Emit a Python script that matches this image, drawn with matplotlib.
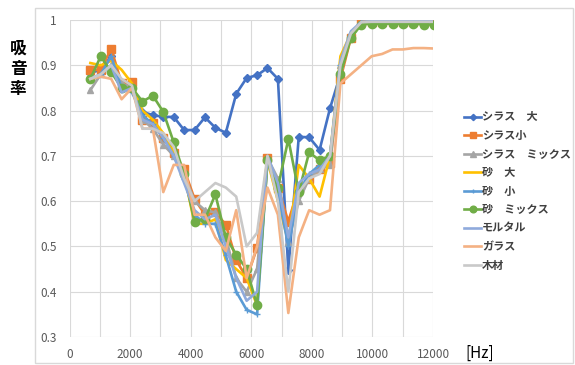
import matplotlib
matplotlib.use("Agg")
import matplotlib.pyplot as plt
from matplotlib.ticker import MultipleLocator, FuncFormatter
from matplotlib.patches import Rectangle

plt.rcParams['font.family'] = ['Noto Sans CJK JP', 'DejaVu Sans']

# Frequencies (Hz)
freq = [344 * n for n in range(2, 36)]

shirasu_dai = [0.883, 0.89, 0.92, 0.86, 0.852, 0.797, 0.79, 0.786, 0.786, 0.757, 0.757,
               0.785, 0.762, 0.751, 0.837, 0.872, 0.878, 0.894, 0.870, 0.447, 0.742,
               0.741, 0.713, 0.805, 0.88, 0.965, 0.995, 0.996, 0.996, 0.996, 0.996,
               0.996, 0.996, 0.996]
shirasu_sho = [0.89, 0.89, 0.937, 0.86, 0.862, 0.78, 0.772, 0.74, 0.706, 0.67, 0.605,
               0.57, 0.575, 0.548, 0.47, 0.43, 0.497, 0.695, 0.63, 0.555, 0.63,
               0.65, 0.67, 0.685, 0.87, 0.96, 0.995, 0.996, 0.996, 0.996, 0.996,
               0.996, 0.996, 0.996]
shirasu_mix = [0.845, 0.88, 0.90, 0.86, 0.85, 0.78, 0.76, 0.725, 0.70, 0.66, 0.60,
               0.58, 0.575, 0.52, 0.43, 0.40, 0.45, 0.695, 0.65, 0.51, 0.60,
               0.65, 0.67, 0.68, 0.90, 0.965, 0.992, 0.994, 0.994, 0.994, 0.994,
               0.994, 0.994, 0.994]
suna_dai = [0.905, 0.90, 0.91, 0.89, 0.86, 0.80, 0.78, 0.75, 0.71, 0.66, 0.55,
            0.55, 0.56, 0.47, 0.45, 0.43, 0.37, 0.69, 0.60, 0.51, 0.68,
            0.65, 0.61, 0.70, 0.92, 0.97, 0.995, 0.997, 0.997, 0.997, 0.997,
            0.997, 0.997, 0.997]
suna_sho = [0.87, 0.88, 0.92, 0.85, 0.84, 0.79, 0.77, 0.74, 0.70, 0.65, 0.57,
            0.55, 0.55, 0.48, 0.40, 0.36, 0.35, 0.69, 0.62, 0.50, 0.62,
            0.66, 0.68, 0.70, 0.90, 0.97, 0.995, 0.996, 0.996, 0.996, 0.996,
            0.996, 0.996, 0.996]
suna_mix = [0.87, 0.92, 0.885, 0.85, 0.85, 0.82, 0.833, 0.797, 0.73, 0.66, 0.555,
            0.56, 0.615, 0.52, 0.482, 0.45, 0.37, 0.69, 0.63, 0.737, 0.62,
            0.708, 0.69, 0.70, 0.88, 0.96, 0.99, 0.992, 0.992, 0.992, 0.992,
            0.992, 0.99, 0.99]
mortar = [0.87, 0.88, 0.90, 0.84, 0.85, 0.78, 0.77, 0.74, 0.70, 0.64, 0.58,
          0.56, 0.57, 0.50, 0.43, 0.38, 0.40, 0.70, 0.64, 0.52, 0.64,
          0.66, 0.67, 0.70, 0.91, 0.975, 0.996, 0.997, 0.997, 0.997, 0.997,
          0.997, 0.997, 0.997]
glass = [0.87, 0.875, 0.87, 0.825, 0.85, 0.76, 0.76, 0.62, 0.68, 0.68, 0.57,
         0.57, 0.52, 0.49, 0.58, 0.43, 0.50, 0.63, 0.57, 0.353, 0.52,
         0.58, 0.57, 0.58, 0.86, 0.88, 0.90, 0.92, 0.925, 0.935, 0.935,
         0.938, 0.938, 0.937]
wood = [0.87, 0.88, 0.90, 0.87, 0.855, 0.76, 0.76, 0.75, 0.72, 0.65, 0.60,
        0.62, 0.64, 0.63, 0.61, 0.50, 0.53, 0.70, 0.60, 0.40, 0.62,
        0.65, 0.66, 0.70, 0.90, 0.97, 0.995, 0.996, 0.996, 0.996, 0.996,
        0.996, 0.996, 0.996]

labels = ['シラス　大', 'シラス小', 'シラス　ミックス', '砂　大', '砂　小',
          '砂　ミックス', 'モルタル', 'ガラス', '木材']
series = [shirasu_dai, shirasu_sho, shirasu_mix, suna_dai, suna_sho,
          suna_mix, mortar, glass, wood]
colors = ['#4472C4', '#ED7D31', '#A5A5A5', '#FFC000', '#5B9BD5',
          '#70AD47', '#8FAADC', '#F4B183', '#C9C9C9']
markers = ['D', 's', '^', None, '+', 'o', None, None, None]
msizes = [4, 5.5, 5, 0, 4, 6, 0, 0, 0]

fig = plt.figure(figsize=(5.75, 3.65), dpi=100)
fig.add_artist(Rectangle((35 / 575, 0.005), 1 - 35 / 575 - 0.003, 1 - 8 / 365 - 0.005,
                         transform=fig.transFigure, fill=False,
                         edgecolor='#D9D9D9', linewidth=1.0))

ax = fig.add_axes([69.5 / 575, 28 / 365, (433 - 69.5) / 575, (337 - 20) / 365])

for y, lab, c, m, ms in zip(series, labels, colors, markers, msizes):
    ax.plot(freq, y, color=c, marker=m, markersize=ms, linewidth=1.9,
            label=lab, clip_on=True)

ax.set_xlim(0, 12000)
ax.set_ylim(0.3, 1.0)
ax.xaxis.set_major_locator(MultipleLocator(2000))
ax.xaxis.set_minor_locator(MultipleLocator(1000))
ax.yaxis.set_major_locator(MultipleLocator(0.1))
ax.yaxis.set_major_formatter(FuncFormatter(lambda v, p: '1' if abs(v - 1) < 1e-9 else f'{v:.1f}'))
ax.grid(which='both', axis='x', color='#D9D9D9', linewidth=0.8)
ax.grid(which='major', axis='y', color='#D9D9D9', linewidth=0.8)
ax.set_axisbelow(True)
for s in ax.spines.values():
    s.set_visible(False)
ax.tick_params(which='both', length=0, labelsize=8.5, colors='#595959')
ax.tick_params(axis='x', pad=8)
ax.tick_params(axis='y', pad=9)

fig.text(465 / 575, 1 - 353 / 365, '[Hz]', fontsize=11, va='center', ha='left', color='#000000')
fig.text(18 / 575, 1 - 69 / 365, '吸\n音\n率', fontsize=12, fontweight='bold',
         va='center', ha='center', linespacing=1.15)

leg = ax.legend(loc='upper left', bbox_to_anchor=(460 / 575, 1 - 106 / 365),
                bbox_transform=fig.transFigure, frameon=False, fontsize=8,
                handlelength=1.5, handletextpad=0.1, labelspacing=0.5,
                borderaxespad=0, markerscale=0.8)
for t in leg.get_texts():
    t.set_fontweight('bold')
    t.set_color('#404040')

fig.savefig('out.png', dpi=100)
